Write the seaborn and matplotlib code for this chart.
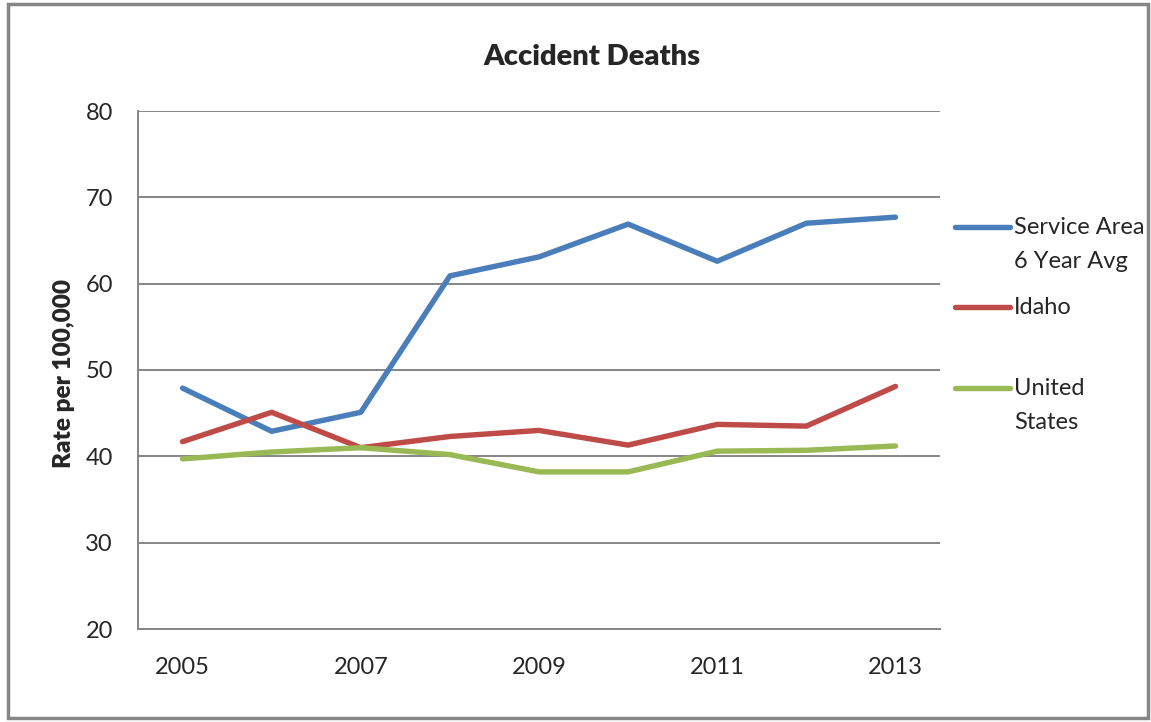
import pandas as pd
import matplotlib.pyplot as plt
import seaborn as sns
from matplotlib.patches import Rectangle

years = [2005, 2006, 2007, 2008, 2009, 2010, 2011, 2012, 2013]
service_area = [47.9, 42.9, 45.1, 60.9, 63.1, 66.9, 62.6, 67.0, 67.7]
idaho = [41.7, 45.1, 41.0, 42.3, 43.0, 41.3, 43.7, 43.5, 48.1]
united_states = [39.7, 40.5, 41.0, 40.2, 38.2, 38.2, 40.6, 40.7, 41.2]

series_names = ["Service Area\n6 Year Avg", "Idaho", "United\nStates"]
colors = ["#4A7EBB", "#BE4B48", "#98B954"]

df = pd.DataFrame({
    "Year": years * 3,
    "Rate": service_area + idaho + united_states,
    "Series": [series_names[0]] * 9 + [series_names[1]] * 9 + [series_names[2]] * 9,
})

sns.set_style("white")
plt.rcParams["font.family"] = ["Lato", "DejaVu Sans"]

fig = plt.figure(figsize=(11.51, 7.22), dpi=100)
ax = fig.add_axes([138 / 1151, 1 - 629 / 722, 802 / 1151, 518 / 722])

sns.lineplot(data=df, x="Year", y="Rate", hue="Series", palette=colors,
             linewidth=3.9, ax=ax, legend=False, zorder=3)
for line in ax.lines:
    line.set_solid_capstyle("round")
    line.set_solid_joinstyle("round")

ax.set_xlim(2004.5, 2013.5)
ax.set_ylim(20, 80)
ax.set_xticks(years[::2])
ax.set_yticks(range(20, 81, 10))
ax.yaxis.grid(True, color="#868686", linewidth=1.4)
ax.set_axisbelow(True)
for side in ["top", "right"]:
    ax.spines[side].set_visible(False)
for side in ["left", "bottom"]:
    ax.spines[side].set_color("#868686")
    ax.spines[side].set_linewidth(1.4)
ax.tick_params(axis="y", length=0, pad=18, labelsize=17)
ax.tick_params(axis="x", length=0, pad=20, labelsize=17)

ax.set_xlabel("")
ax.set_ylabel("Rate per 100,000", fontsize=17.5, fontweight="heavy")
ax.yaxis.set_label_coords(-0.078, 0.494)

fig.text(591.5 / 1151, 1 - 65 / 722, "Accident Deaths", ha="center",
         va="baseline", fontsize=21, fontweight="heavy")

# legend drawn by hand so the keys sit on the first text line like Excel
key_y = [0.776, 0.621, 0.4647]
step = 34 / 518
for name, color, y in zip(series_names, colors, key_y):
    ax.plot([1.0187, 1.0873], [y, y], color=color, linewidth=3.9,
            solid_capstyle="round", transform=ax.transAxes, clip_on=False)
    for i, part in enumerate(name.split("\n")):
        ax.text(1.0923, y - i * step, part, transform=ax.transAxes,
                ha="left", va="center", fontsize=17)

fig.patches.append(Rectangle((8 / 1151, 4 / 722), 1140 / 1151, 714 / 722,
                             transform=fig.transFigure, fill=False,
                             edgecolor="#868686", linewidth=2.5))

fig.savefig("out.png", dpi=100)
